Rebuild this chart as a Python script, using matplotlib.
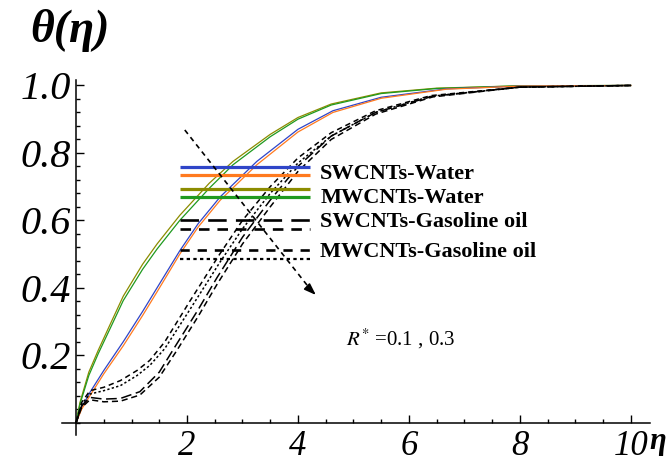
import matplotlib
matplotlib.use("Agg")
import matplotlib.pyplot as plt
from matplotlib.ticker import MultipleLocator, FixedLocator
from matplotlib.lines import Line2D

plt.rcParams["mathtext.fontset"] = "stix"

# Temperature profiles theta(eta) for water- and gasoline-oil-based nanofluids
eta_mw_water = [0, 0.07, 0.23, 0.4, 0.61, 0.85, 1.2, 1.46, 1.87, 2.4, 2.83, 3.5, 4.0, 4.6, 5.5, 6.5, 8, 10]
theta_mw_water_a = [0, 0.06, 0.15, 0.215, 0.29, 0.375, 0.47, 0.53, 0.615, 0.71, 0.775, 0.855, 0.905, 0.945, 0.978, 0.992, 0.999, 1.0]
theta_mw_water_b = [0, 0.055, 0.14, 0.205, 0.278, 0.362, 0.455, 0.515, 0.60, 0.695, 0.765, 0.848, 0.90, 0.942, 0.976, 0.991, 0.999, 1.0]

eta_sw_water = [0, 0.1, 0.25, 0.5, 0.85, 1.2, 1.46, 1.87, 2.2, 2.6, 3.26, 4.0, 4.63, 5.5, 6.68, 8, 10]
theta_sw_water_a = [0, 0.045, 0.09, 0.155, 0.24, 0.33, 0.40, 0.51, 0.59, 0.67, 0.775, 0.87, 0.925, 0.965, 0.99, 0.998, 1.0]
theta_sw_water_b = [0, 0.04, 0.08, 0.145, 0.228, 0.318, 0.388, 0.50, 0.58, 0.66, 0.765, 0.862, 0.92, 0.962, 0.989, 0.998, 1.0]

eta_mw_oil = [0, 0.1, 0.25, 0.5, 0.8, 1.1, 1.33, 1.6, 2.05, 2.59, 3.0, 3.5, 4.0, 4.6, 5.4, 6.4, 8, 10]
theta_mw_oil_a = [0, 0.06, 0.095, 0.105, 0.125, 0.155, 0.185, 0.24, 0.36, 0.50, 0.60, 0.70, 0.785, 0.86, 0.925, 0.97, 0.995, 1.0]
theta_mw_oil_b = [0, 0.055, 0.085, 0.095, 0.11, 0.14, 0.17, 0.22, 0.335, 0.475, 0.575, 0.68, 0.77, 0.85, 0.92, 0.968, 0.995, 1.0]

eta_sw_oil = [0, 0.1, 0.25, 0.5, 0.8, 1.15, 1.5, 1.82, 2.2, 2.54, 3.0, 3.5, 4.0, 4.6, 5.4, 6.43, 8, 10]
theta_sw_oil_a = [0, 0.05, 0.075, 0.07, 0.072, 0.092, 0.15, 0.235, 0.335, 0.43, 0.55, 0.66, 0.76, 0.85, 0.92, 0.968, 0.995, 1.0]
theta_sw_oil_b = [0, 0.045, 0.068, 0.062, 0.064, 0.082, 0.135, 0.215, 0.315, 0.41, 0.53, 0.64, 0.745, 0.84, 0.915, 0.966, 0.995, 1.0]

x_ticks = [2, 4, 6, 8, 10]
y_ticks = [0.2, 0.4, 0.6, 0.8, 1.0]
legend_labels = ["SWCNTs-Water", "MWCNTs-Water", "SWCNTs-Gasoline oil", "MWCNTs-Gasoline oil"]
param_label = "$R^{*}$ =0.1 , 0.3"

BLUE, ORANGE, OLIVE, GREEN = "#2f45c8", "#ff7a1f", "#8c8c00", "#1f9a1f"
SERIF = "Liberation Serif"

fig = plt.figure(figsize=(6.7, 4.7), dpi=100)
ax = fig.add_axes([0.0887, 0.0755, 0.890, 0.7606])
ax.set_xlim(-0.3, 10.45)
ax.set_ylim(-0.035, 1.025)

# curves
ax.plot(eta_mw_water, theta_mw_water_a, color=OLIVE, lw=0.9)
ax.plot(eta_mw_water, theta_mw_water_b, color=GREEN, lw=0.9)
ax.plot(eta_sw_water, theta_sw_water_a, color=BLUE, lw=0.9)
ax.plot(eta_sw_water, theta_sw_water_b, color=ORANGE, lw=0.9)
ax.plot(eta_sw_oil, theta_sw_oil_a, color="black", lw=1.1, dashes=(7, 3))
ax.plot(eta_sw_oil, theta_sw_oil_b, color="black", lw=1.1, dashes=(4, 2.5))
ax.plot(eta_mw_oil, theta_mw_oil_a, color="black", lw=1.1, dashes=(3.5, 2.5))
ax.plot(eta_mw_oil, theta_mw_oil_b, color="black", lw=1.1, dashes=(1.5, 1.5))

# axes through the origin
for side in ("top", "right"):
    ax.spines[side].set_visible(False)
ax.spines["left"].set_position(("data", 0))
ax.spines["bottom"].set_position(("data", 0))
ax.spines["bottom"].set_bounds(-0.25, 10.35)
ax.spines["left"].set_bounds(-0.035, 1.015)
for side in ("left", "bottom"):
    ax.spines[side].set_linewidth(1.1)

ax.xaxis.set_major_locator(FixedLocator(x_ticks))
ax.xaxis.set_minor_locator(MultipleLocator(0.5))
ax.yaxis.set_major_locator(FixedLocator(y_ticks))
ax.yaxis.set_minor_locator(MultipleLocator(0.04))
ax.tick_params(which="both", direction="in", width=1.0, color="black")
ax.tick_params(which="major", length=6)
ax.tick_params(which="minor", length=3)
ax.tick_params(axis="x", which="major", pad=5)
ax.tick_params(axis="y", which="major", pad=4)
ax.set_xticklabels([f"{v:g}" for v in x_ticks], fontsize=25, family=SERIF, style="italic")
ax.set_yticklabels([f"{v:.1f}" for v in y_ticks], fontsize=29, family=SERIF, style="italic")

# axis titles
fig.text(0.105, 0.936, "θ(η)", fontsize=33, family=SERIF, style="italic",
         weight="bold", ha="center", va="center")
ax.text(10.48, -0.055, "η", fontsize=22, family=SERIF, style="italic",
        weight="bold", ha="center", va="center", clip_on=False)

# legend drawn as line samples with labels
tr = ax.transData
sample_x = [1.87, 4.22]
sample_rows = [
    (0.759, dict(color=BLUE, lw=2.3, solid_capstyle="butt")),
    (0.735, dict(color=ORANGE, lw=2.3, solid_capstyle="butt")),
    (0.693, dict(color=OLIVE, lw=2.3, solid_capstyle="butt")),
    (0.670, dict(color=GREEN, lw=2.3, solid_capstyle="butt")),
    (0.601, dict(color="black", lw=1.9, dashes=(7, 3.5))),
    (0.575, dict(color="black", lw=1.9, dashes=(4, 3))),
    (0.513, dict(color="black", lw=1.9, dashes=(3.5, 3))),
    (0.486, dict(color="black", lw=1.6, dashes=(1.5, 1.5))),
]
for yy, style in sample_rows:
    ax.add_line(Line2D(sample_x, [yy, yy], transform=tr, **style))
for yy, label in zip([0.737, 0.665, 0.594, 0.506], legend_labels):
    ax.text(4.40, yy, label, fontsize=16, family=SERIF, weight="bold",
            ha="left", va="center")

# direction of increasing R*
ax.plot([1.96, 4.25], [0.868, 0.39], color="black", lw=1.2, dashes=(3, 2.5))
ax.annotate("", xy=(4.36, 0.373), xytext=(4.22, 0.395),
            arrowprops=dict(arrowstyle="-|>,head_length=0.7,head_width=0.25",
                            color="black", lw=1.2))
ax.text(5.86, 0.249, param_label, fontsize=15, family=SERIF,
        ha="center", va="center")

fig.savefig("out.png", dpi=100)
